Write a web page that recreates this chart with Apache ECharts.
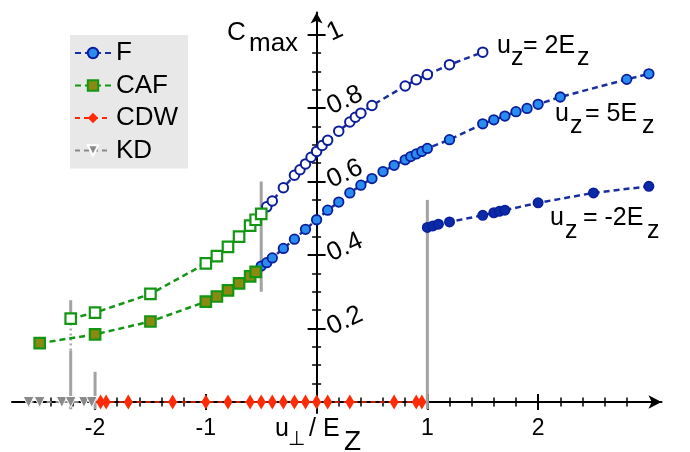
<!DOCTYPE html>
<html><head><meta charset="utf-8">
<script src="https://cdn.jsdelivr.net/npm/echarts@6/dist/echarts.min.js"></script>
<style>html,body{margin:0;padding:0;background:#fff}#c{width:690px;height:452px}</style>
</head><body><div id="c"></div>
<script>
const FONT = '"Liberation Sans", Arial, Helvetica, sans-serif';

// ---- data ----
// F phase, u_z = 5E_z (filled light-blue circles)
const fU5x = [-0.5,-0.45,-0.4,-0.3,-0.2,-0.1,0,0.1,0.2,0.3,0.4,0.5,0.6,0.7,0.8,0.85,0.9,0.95,1.0,1.2,1.5,1.6,1.7,1.8,1.9,2.0,2.2,2.8,3.0];
const fU5y = [0.370,0.379,0.392,0.418,0.443,0.470,0.496,0.522,0.544,0.569,0.590,0.608,0.627,0.644,0.659,0.668,0.675,0.682,0.690,0.714,0.757,0.768,0.778,0.790,0.799,0.810,0.830,0.878,0.893];
// F phase, u_z = 2E_z (open circles)
const fU2x = [-0.45,-0.4,-0.3,-0.2,-0.15,-0.1,-0.05,0,0.05,0.1,0.2,0.3,0.35,0.4,0.5,0.8,0.9,1.0,1.2,1.5];
const fU2y = [0.531,0.547,0.583,0.617,0.632,0.648,0.666,0.682,0.698,0.712,0.737,0.762,0.775,0.786,0.807,0.860,0.877,0.891,0.918,0.952];
// F phase, u_z = -2E_z (filled navy circles)
const fUm2x = [1.0,1.05,1.1,1.2,1.5,1.6,1.65,1.7,2.0,2.5,3.0];
const fUm2y = [0.475,0.479,0.484,0.490,0.508,0.515,0.519,0.522,0.542,0.569,0.587];
// CAF phase (filled squares, continues u_z = 5E_z)
const cafFx = [-2.5,-2.0,-1.5,-1.0,-0.9,-0.8,-0.7,-0.6,-0.55];
const cafFy = [0.160,0.184,0.219,0.273,0.287,0.304,0.323,0.342,0.354];
// CAF phase (open squares, continues u_z = 2E_z)
const cafOx = [-2.22,-2.0,-1.5,-1.0,-0.9,-0.8,-0.7,-0.6,-0.55,-0.5];
const cafOy = [0.227,0.243,0.294,0.377,0.397,0.422,0.450,0.480,0.496,0.512];
// CDW points (C_max = 0)
const cdwX = [-1.95,-1.9,-1.7,-1.3,-1.0,-0.8,-0.6,-0.5,-0.4,-0.3,-0.2,-0.1,0,0.1,0.3,0.7,0.9,0.95];
const cdwY = cdwX.map(() => 0);
// KD points (C_max = 0)
const kdX = [-2.6,-2.5,-2.3,-2.22,-2.1,-2.03];
const kdY = kdX.map(() => 0);
// phase-boundary markers (grey vertical segments)
const phaseX    = [-0.5, 1.0, -2.22, -2.0, -2.22];
const phaseLow  = [0.30, -0.02, -0.02, -0.02, 0.236];
const phaseHigh = [0.60, 0.55, 0.14, 0.082, 0.277];
const phaseDotX = [-2.22];
const phaseDotLow = [0.14];
const phaseDotHigh = [0.236];
// ticks
const xMajorTicks = [-2,-1,0,1,2];
const xMinorTicks = [-2.6,-2.4,-2.2,-1.8,-1.6,-1.4,-1.2,-0.8,-0.6,-0.4,-0.2,0.2,0.4,0.6,0.8,1.2,1.4,1.6,1.8,2.2,2.4,2.6,2.8];
const xTickLabels = [-2,-1,1,2];
const yMajorTicks = [0.2,0.4,0.6,0.8,1];
const yMinorTicks = [0.05,0.1,0.15,0.25,0.3,0.35,0.45,0.5,0.55,0.65,0.7,0.75,0.85,0.9,0.95];
const yTickLabels = [0.2,0.4,0.6,0.8,1];
const legendNames = ['F','CAF','CDW','KD'];

const zip = (xs, ys) => xs.map((x, i) => [x, ys[i]]);

const X_MIN = -2.75, X_MAX = 3.114, Y_MIN = -0.03, Y_MAX = 1.06;
const G = { left: 12, right: 28.5, top: 12.5, bottom: 39 };
const GW = 690 - G.left - G.right, GH = 452 - G.top - G.bottom;
// shift the axes so they cross at the origin (computed from the scales)
const X_OFF = -(0 - Y_MIN) / (Y_MAX - Y_MIN) * GH;
const Y_OFF = -(0 - X_MIN) / (X_MAX - X_MIN) * GW;

function xAx(ticks, len, width, inside, labels, lineShow) {
  return {
    type: 'value', min: X_MIN, max: X_MAX, position: 'bottom', offset: X_OFF,
    axisLine: { show: lineShow, onZero: false,
      symbol: ['none', 'arrow'], symbolSize: [10, 13],
      lineStyle: { color: '#000', width: 2 } },
    axisTick: { show: true, customValues: ticks, length: len, inside: inside,
      lineStyle: { color: '#000', width: width } },
    axisLabel: labels ? { show: true, customValues: labels, fontSize: 23, fontFamily: FONT,
      color: '#000', margin: 15 } : { show: false },
    splitLine: { show: false }, minorTick: { show: false }
  };
}
function yAx(ticks, len, width, inside, labels, lineShow) {
  return {
    type: 'value', min: Y_MIN, max: Y_MAX, position: 'left', offset: Y_OFF,
    axisLine: { show: lineShow, onZero: false,
      symbol: ['none', 'arrow'], symbolSize: [9, 11],
      lineStyle: { color: '#000', width: 2 } },
    axisTick: { show: true, customValues: ticks, length: len, inside: inside,
      lineStyle: { color: '#000', width: width } },
    axisLabel: labels ? { show: true, inside: true, customValues: labels, fontSize: 26, fontFamily: FONT,
      color: '#000', margin: 12, rotate: 25 } : { show: false },
    splitLine: { show: false }, minorTick: { show: false }
  };
}

function T(x, baseline, text, size) {
  return { type: 'text', x: x, y: baseline - 0.35 * size, z: 100,
    style: { text: text, fontSize: size, fontFamily: FONT, fill: '#000',
      align: 'left', verticalAlign: 'middle' } };
}

const navy = '#0a1e9c', navyLine = '#1a2f9f', green = '#139613';
const dashF = [6, 4];

const series = [];
for (let i = 0; i < phaseX.length; i++) {
  series.push({ type: 'line', name: '_phase' + i, silent: true, symbol: 'none', z: 1, clip: false,
    data: [[phaseX[i], phaseLow[i]], [phaseX[i], phaseHigh[i]]],
    lineStyle: { color: '#a2a2a2', width: 3 } });
}
for (let i = 0; i < phaseDotX.length; i++) {
  series.push({ type: 'line', name: '_phaseDot' + i, silent: true, symbol: 'none', z: 1,
    data: [[phaseDotX[i], phaseDotLow[i]], [phaseDotX[i], phaseDotHigh[i]]],
    lineStyle: { color: '#a8a8a8', width: 2.5, type: [2, 3] } });
}
series.push(
  { type: 'line', name: 'F', data: zip(fU5x, fU5y), symbol: 'circle', symbolSize: 9.5,
    itemStyle: { color: '#2a8cf0', borderColor: navy, borderWidth: 1.8 },
    lineStyle: { color: navyLine, width: 2.5, type: dashF } },
  { type: 'line', name: 'F', data: zip(fU2x, fU2y), symbol: 'circle', symbolSize: 9.5,
    itemStyle: { color: '#ffffff', borderColor: navy, borderWidth: 2 },
    lineStyle: { color: navyLine, width: 2.5, type: dashF } },
  { type: 'line', name: 'F', data: zip(fUm2x, fUm2y), symbol: 'circle', symbolSize: 9.5,
    itemStyle: { color: '#0b2aa8', borderColor: navy, borderWidth: 1.5 },
    lineStyle: { color: navyLine, width: 2.5, type: dashF } },
  { type: 'line', name: 'CAF', data: zip(cafFx, cafFy), symbol: 'rect', symbolSize: 10.5,
    itemStyle: { color: '#8a8a12', borderColor: green, borderWidth: 2.2 },
    lineStyle: { color: green, width: 2.5, type: dashF } },
  { type: 'line', name: 'CAF', data: zip(cafOx, cafOy), symbol: 'rect', symbolSize: 10.5,
    itemStyle: { color: '#ffffff', borderColor: green, borderWidth: 2.2 },
    lineStyle: { color: green, width: 2.5, type: dashF } },
  { type: 'line', name: 'CDW', data: zip(cdwX, cdwY), symbol: 'diamond', symbolSize: [9, 15],
    itemStyle: { color: '#ff2b06' },
    lineStyle: { color: '#ff2b06', width: 1.5, type: [5, 4] } },
  { type: 'line', name: 'KD', data: zip(kdX, kdY), symbol: 'triangle', symbolRotate: 180,
    symbolSize: [11, 11],
    itemStyle: { color: '#8a8a8a', borderColor: '#ffffff', borderWidth: 1 },
    lineStyle: { color: '#8a8a8a', width: 2, type: [5, 4] } }
);

const chart = echarts.init(document.getElementById('c'), null, { renderer: 'canvas' });
chart.setOption({
  animation: false,
  backgroundColor: '#ffffff',
  grid: { left: G.left, right: G.right, top: G.top, bottom: G.bottom, containLabel: false, outerBoundsMode: 'none' },
  xAxis: [
    xAx(xMajorTicks, 8, 2, false, xTickLabels, true),
    xAx(xMajorTicks, 8, 2, true, null, false),
    xAx(xMinorTicks, 4.5, 1.5, false, null, false),
    xAx(xMinorTicks, 4.5, 1.5, true, null, false)
  ],
  yAxis: [
    yAx(yMajorTicks, 9, 2, true, yTickLabels, true),
    yAx(yMajorTicks, 9, 2, false, null, false),
    yAx(yMinorTicks, 4.5, 1.5, true, null, false),
    yAx(yMinorTicks, 4.5, 1.5, false, null, false)
  ],
  legend: {
    data: legendNames, orient: 'vertical', left: 70, top: 35,
    backgroundColor: '#e8e8e8', padding: [5, 10, 5, 4],
    itemWidth: 36, itemHeight: 13, itemGap: 6.5,
    textStyle: { fontSize: 26, fontFamily: FONT, color: '#000' }
  },
  series: series,
  graphic: [
    T(227, 42, 'C', 26), T(249, 53, 'max', 26),
    T(275, 438, 'u', 25), T(288, 446, '\u22A5', 20), T(309, 438, '/ E', 25), T(344, 452, 'Z', 28),
    T(497, 55, 'u', 25), T(511, 67, 'z', 25), T(523, 55, '= 2E', 25), T(577, 67, 'z', 25),
    T(555, 123, 'u', 25), T(570, 135, 'z', 25), T(585, 123, '= 5E', 25), T(642, 135, 'z', 25),
    T(550, 227, 'u', 25), T(565, 240, 'z', 25), T(583, 227, '= -2E', 25), T(647, 240, 'z', 25)
  ]
});
</script></body></html>
